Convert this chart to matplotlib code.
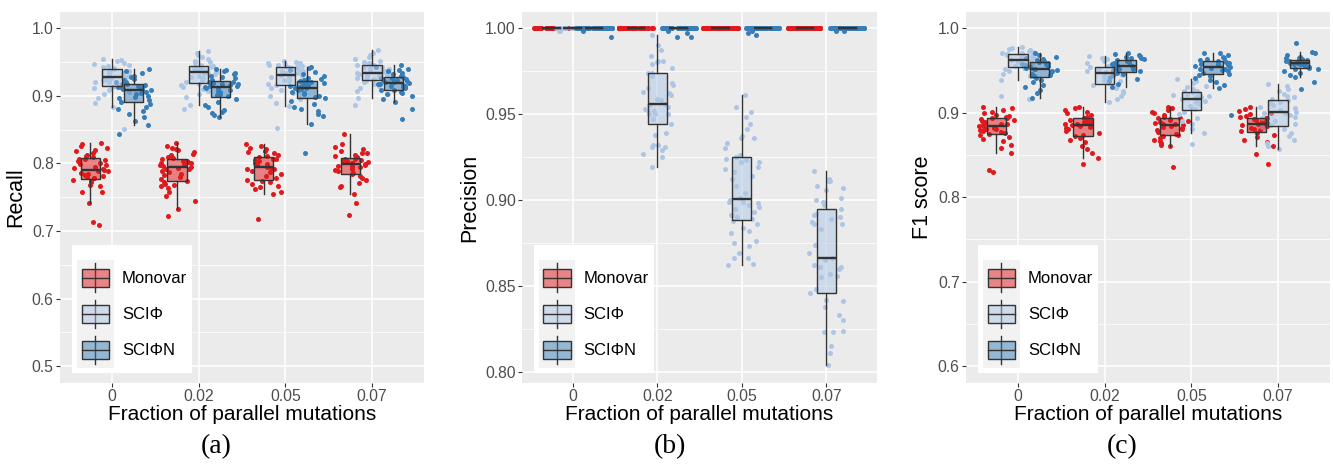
import matplotlib
matplotlib.use("Agg")
import matplotlib.pyplot as plt
import numpy as np
from matplotlib.colors import to_rgba
from matplotlib.legend_handler import HandlerBase
from matplotlib.lines import Line2D
from matplotlib.patches import Rectangle

# categories and series
fractions = ["0", "0.02", "0.05", "0.07"]
methods = ["Monovar", "SCIΦ", "SCIΦN"]
point_colors = ["#E0191C", "#ADC6E5", "#377EB8"]

# recall, one list per fraction
recall_monovar = [
    [0.709, 0.713, 0.742, 0.757, 0.758, 0.766, 0.768, 0.772, 0.774, 0.776, 0.778, 0.779, 0.780, 0.781,
     0.783, 0.785, 0.786, 0.788, 0.789, 0.790, 0.791, 0.793, 0.795, 0.797, 0.799, 0.801, 0.803, 0.805,
     0.806, 0.807, 0.809, 0.811, 0.813, 0.815, 0.818, 0.820, 0.823, 0.826, 0.829, 0.830],
    [0.722, 0.732, 0.745, 0.752, 0.758, 0.763, 0.766, 0.768, 0.770, 0.772, 0.774, 0.777, 0.780, 0.783,
     0.785, 0.787, 0.789, 0.791, 0.792, 0.793, 0.795, 0.796, 0.797, 0.798, 0.800, 0.801, 0.802, 0.803,
     0.804, 0.806, 0.808, 0.810, 0.812, 0.814, 0.817, 0.820, 0.822, 0.823, 0.826, 0.830],
    [0.718, 0.754, 0.758, 0.762, 0.765, 0.767, 0.770, 0.772, 0.774, 0.776, 0.779, 0.782, 0.785, 0.787,
     0.789, 0.791, 0.792, 0.793, 0.795, 0.797, 0.799, 0.801, 0.803, 0.805, 0.806, 0.807, 0.809, 0.811,
     0.813, 0.815, 0.817, 0.819, 0.821, 0.823, 0.826, 0.829],
    [0.723, 0.741, 0.754, 0.765, 0.766, 0.771, 0.775, 0.778, 0.781, 0.784, 0.786, 0.788, 0.790, 0.792,
     0.794, 0.795, 0.796, 0.797, 0.798, 0.799, 0.800, 0.801, 0.802, 0.803, 0.804, 0.805, 0.806, 0.807,
     0.809, 0.811, 0.813, 0.815, 0.816, 0.818, 0.821, 0.824, 0.829, 0.843],
]
recall_sciphi = [
    [0.851, 0.884, 0.890, 0.897, 0.902, 0.906, 0.909, 0.911, 0.913, 0.914, 0.916, 0.918, 0.920, 0.921,
     0.923, 0.924, 0.926, 0.927, 0.928, 0.929, 0.930, 0.931, 0.933, 0.934, 0.936, 0.937, 0.938, 0.940,
     0.941, 0.943, 0.944, 0.946, 0.947, 0.949, 0.951, 0.953, 0.955],
    [0.880, 0.886, 0.898, 0.903, 0.907, 0.910, 0.913, 0.916, 0.918, 0.920, 0.923, 0.926, 0.928, 0.930,
     0.932, 0.933, 0.934, 0.935, 0.936, 0.937, 0.938, 0.939, 0.940, 0.941, 0.942, 0.943, 0.944, 0.946,
     0.948, 0.950, 0.952, 0.954, 0.957, 0.960, 0.963, 0.967],
    [0.852, 0.885, 0.890, 0.895, 0.900, 0.904, 0.908, 0.911, 0.914, 0.916, 0.918, 0.920, 0.922, 0.924,
     0.926, 0.928, 0.929, 0.930, 0.931, 0.933, 0.934, 0.936, 0.937, 0.938, 0.940, 0.941, 0.942, 0.943,
     0.944, 0.945, 0.946, 0.947, 0.948, 0.949, 0.950, 0.951],
    [0.886, 0.896, 0.902, 0.907, 0.911, 0.914, 0.917, 0.920, 0.922, 0.923, 0.925, 0.927, 0.928, 0.929,
     0.930, 0.931, 0.932, 0.933, 0.934, 0.935, 0.937, 0.938, 0.940, 0.941, 0.942, 0.943, 0.945, 0.946,
     0.948, 0.950, 0.952, 0.954, 0.957, 0.960, 0.964, 0.968],
]
recall_sciphin = [
    [0.843, 0.857, 0.862, 0.868, 0.873, 0.877, 0.880, 0.884, 0.888, 0.891, 0.894, 0.896, 0.898, 0.900,
     0.902, 0.904, 0.906, 0.908, 0.909, 0.910, 0.911, 0.912, 0.913, 0.914, 0.915, 0.916, 0.917, 0.918,
     0.920, 0.921, 0.923, 0.925, 0.928, 0.930, 0.933, 0.936, 0.940],
    [0.868, 0.871, 0.874, 0.876, 0.879, 0.883, 0.887, 0.891, 0.895, 0.899, 0.901, 0.903, 0.905, 0.907,
     0.909, 0.911, 0.912, 0.913, 0.914, 0.915, 0.916, 0.917, 0.918, 0.919, 0.920, 0.921, 0.922, 0.924,
     0.926, 0.928, 0.930, 0.932, 0.934, 0.936, 0.938, 0.939],
    [0.815, 0.859, 0.870, 0.873, 0.877, 0.880, 0.884, 0.888, 0.892, 0.896, 0.898, 0.900, 0.902, 0.904,
     0.906, 0.908, 0.910, 0.911, 0.912, 0.913, 0.914, 0.915, 0.917, 0.918, 0.919, 0.920, 0.921, 0.922,
     0.923, 0.925, 0.927, 0.930, 0.932, 0.935, 0.938, 0.941, 0.943],
    [0.865, 0.880, 0.891, 0.895, 0.899, 0.902, 0.904, 0.906, 0.908, 0.909, 0.911, 0.913, 0.914, 0.915,
     0.916, 0.917, 0.918, 0.919, 0.920, 0.921, 0.922, 0.923, 0.924, 0.925, 0.926, 0.927, 0.928, 0.930,
     0.932, 0.934, 0.936, 0.938, 0.940, 0.942, 0.945],
]

# precision
precision_monovar = [[1.0] * 45, [1.0] * 45, [1.0] * 45, [1.0] * 45]
precision_sciphi = [
    [0.998, 0.998] + [1.0] * 43,
    [0.996, 0.990, 0.987, 0.984, 0.981, 0.981, 0.980, 0.979, 0.977, 0.974, 0.974, 0.972, 0.968, 0.967,
     0.965, 0.963, 0.962, 0.961, 0.959, 0.958, 0.956, 0.955, 0.954, 0.953, 0.952, 0.952, 0.950, 0.950,
     0.950, 0.947, 0.944, 0.939, 0.938, 0.932, 0.932, 0.931, 0.931, 0.929, 0.927, 0.925, 0.919],
    [0.961, 0.954, 0.951, 0.948, 0.944, 0.941, 0.937, 0.936, 0.936, 0.933, 0.930, 0.926, 0.925, 0.924,
     0.923, 0.922, 0.922, 0.919, 0.918, 0.916, 0.914, 0.912, 0.908, 0.904, 0.901, 0.900, 0.899, 0.899,
     0.898, 0.897, 0.896, 0.895, 0.893, 0.891, 0.891, 0.890, 0.889, 0.888, 0.886, 0.884, 0.882, 0.881,
     0.876, 0.875, 0.873, 0.869, 0.866, 0.866, 0.863, 0.862],
    [0.917, 0.912, 0.911, 0.911, 0.908, 0.907, 0.906, 0.901, 0.900, 0.899, 0.897, 0.895, 0.892, 0.891,
     0.890, 0.889, 0.887, 0.886, 0.886, 0.883, 0.874, 0.869, 0.866, 0.865, 0.862, 0.861, 0.861, 0.860,
     0.857, 0.856, 0.855, 0.848, 0.848, 0.846, 0.842, 0.841, 0.838, 0.833, 0.830, 0.824, 0.823, 0.823,
     0.815, 0.811, 0.804],
]
precision_sciphin = [
    [0.995, 0.998] + [1.0] * 43,
    [0.995, 0.995, 0.997, 0.998] + [1.0] * 41,
    [0.996, 0.997, 0.998] + [1.0] * 42,
    [0.998, 0.998] + [1.0] * 43,
]

# F1 score
f1_monovar = [
    [0.830, 0.832, 0.852, 0.858, 0.862, 0.866, 0.869, 0.871, 0.873, 0.875, 0.876, 0.877, 0.878, 0.879,
     0.880, 0.881, 0.882, 0.883, 0.884, 0.885, 0.886, 0.887, 0.888, 0.889, 0.890, 0.891, 0.892, 0.893,
     0.894, 0.895, 0.896, 0.897, 0.899, 0.901, 0.903, 0.905, 0.907],
    [0.839, 0.846, 0.852, 0.857, 0.861, 0.865, 0.868, 0.870, 0.872, 0.874, 0.876, 0.878, 0.880, 0.882,
     0.883, 0.884, 0.885, 0.886, 0.887, 0.888, 0.889, 0.890, 0.891, 0.892, 0.893, 0.894, 0.895, 0.897,
     0.899, 0.901, 0.903, 0.905, 0.907],
    [0.836, 0.860, 0.862, 0.864, 0.866, 0.868, 0.870, 0.872, 0.873, 0.875, 0.877, 0.879, 0.880, 0.882,
     0.883, 0.884, 0.885, 0.886, 0.887, 0.888, 0.889, 0.890, 0.891, 0.892, 0.893, 0.894, 0.895, 0.897,
     0.899, 0.901, 0.903, 0.905, 0.907],
    [0.839, 0.851, 0.860, 0.865, 0.868, 0.871, 0.874, 0.876, 0.878, 0.879, 0.880, 0.882, 0.883, 0.884,
     0.885, 0.886, 0.887, 0.888, 0.889, 0.890, 0.891, 0.892, 0.893, 0.894, 0.895, 0.896, 0.898, 0.900,
     0.902, 0.904, 0.906],
]
f1_sciphi = [
    [0.916, 0.920, 0.938, 0.943, 0.946, 0.949, 0.951, 0.953, 0.955, 0.956, 0.957, 0.958, 0.959, 0.960,
     0.961, 0.962, 0.963, 0.964, 0.965, 0.966, 0.967, 0.968, 0.969, 0.970, 0.971, 0.972, 0.973, 0.974,
     0.975, 0.976, 0.977],
    [0.912, 0.916, 0.920, 0.923, 0.926, 0.929, 0.931, 0.933, 0.935, 0.937, 0.939, 0.941, 0.943, 0.945,
     0.946, 0.947, 0.948, 0.949, 0.950, 0.951, 0.952, 0.953, 0.954, 0.955, 0.957, 0.959, 0.961, 0.963,
     0.965, 0.967],
    [0.863, 0.876, 0.881, 0.886, 0.890, 0.894, 0.898, 0.901, 0.904, 0.906, 0.908, 0.910, 0.912, 0.914,
     0.915, 0.916, 0.917, 0.918, 0.919, 0.920, 0.921, 0.922, 0.923, 0.924, 0.925, 0.926, 0.928, 0.930,
     0.932, 0.935, 0.937, 0.940],
    [0.857, 0.860, 0.864, 0.868, 0.872, 0.876, 0.880, 0.883, 0.885, 0.887, 0.890, 0.893, 0.895, 0.897,
     0.899, 0.900, 0.901, 0.903, 0.905, 0.907, 0.909, 0.911, 0.913, 0.915, 0.916, 0.918, 0.920, 0.922,
     0.925, 0.928, 0.931, 0.934],
]
f1_sciphin = [
    [0.917, 0.923, 0.927, 0.930, 0.933, 0.936, 0.939, 0.941, 0.943, 0.944, 0.946, 0.948, 0.949, 0.950,
     0.951, 0.952, 0.953, 0.954, 0.955, 0.956, 0.957, 0.958, 0.959, 0.960, 0.961, 0.962, 0.963, 0.964,
     0.966, 0.968, 0.970],
    [0.930, 0.934, 0.937, 0.940, 0.942, 0.944, 0.946, 0.947, 0.949, 0.950, 0.951, 0.952, 0.953, 0.954,
     0.955, 0.956, 0.957, 0.958, 0.959, 0.960, 0.961, 0.962, 0.963, 0.964, 0.965, 0.966, 0.967, 0.968,
     0.969, 0.970],
    [0.897, 0.929, 0.933, 0.936, 0.939, 0.941, 0.943, 0.945, 0.946, 0.947, 0.949, 0.950, 0.951, 0.952,
     0.953, 0.954, 0.955, 0.956, 0.957, 0.958, 0.959, 0.960, 0.961, 0.962, 0.963, 0.964, 0.966, 0.968,
     0.970, 0.971],
    [0.928, 0.936, 0.942, 0.945, 0.947, 0.949, 0.951, 0.952, 0.953, 0.954, 0.955, 0.956, 0.957, 0.958,
     0.958, 0.959, 0.959, 0.960, 0.960, 0.961, 0.961, 0.962, 0.963, 0.964, 0.965, 0.966, 0.968, 0.970,
     0.972, 0.982],
]

# style
EDGE = "#333333"
plt.rcParams["font.family"] = ["Liberation Sans", "DejaVu Sans"]


class BoxKey(HandlerBase):
    # ggplot-like boxplot legend key on a grey tile
    def create_artists(self, legend, orig_handle, xdescent, ydescent, width, height, fontsize, trans):
        x0, y0 = -xdescent, -ydescent
        cx = x0 + width / 2
        tile = Rectangle((x0, y0), width, height, facecolor="#F2F2F2", edgecolor="none", transform=trans)
        whisk = Line2D([cx, cx], [y0 + 0.1 * height, y0 + 0.9 * height], color=EDGE, lw=1.0, transform=trans)
        box = Rectangle((x0 + 0.13 * width, y0 + 0.24 * height), 0.74 * width, 0.52 * height,
                        facecolor=orig_handle.get_facecolor(), edgecolor=EDGE, lw=1.0, transform=trans)
        med = Line2D([x0 + 0.13 * width, x0 + 0.87 * width], [y0 + 0.5 * height] * 2,
                     color=EDGE, lw=1.0, transform=trans)
        return [tile, whisk, box, med]


def jitter(n, seed):
    # fixed scatter of the points across the box width (position only)
    u = np.sin((np.arange(n) + 1) * 12.9898 + seed * 78.233) * 43758.5453
    return (u - np.floor(u) - 0.5) * 0.42


def draw_panel(ax, series, ylim, major, minor, fmt, ylabel, ylabel_x, seed):
    pos = np.arange(1, 5)
    offsets = [-0.25, 0.0, 0.25]
    for m, (vals, col) in enumerate(zip(series, point_colors)):
        for g, v in enumerate(vals):
            xs = pos[g] + offsets[m] + jitter(len(v), seed + 3 * m + 11 * g)
            ax.scatter(xs, v, s=13, color=col, linewidths=0, zorder=2)
    for m, (vals, col) in enumerate(zip(series, point_colors)):
        ax.boxplot(vals, positions=pos + offsets[m], widths=0.22, patch_artist=True,
                   showfliers=False, showcaps=False, manage_ticks=False, zorder=3,
                   boxprops=dict(facecolor=to_rgba(col, 0.5), edgecolor=EDGE, linewidth=1.0),
                   medianprops=dict(color=EDGE, linewidth=1.7),
                   whiskerprops=dict(color=EDGE, linewidth=1.0))

    ax.set_xlim(0.4, 4.6)
    ax.set_ylim(*ylim)
    ax.set_xticks(pos, fractions)
    ax.set_yticks(major, [fmt.format(t) for t in major])
    ax.set_yticks(minor, minor=True)
    ax.set_facecolor("#EBEBEB")
    for s in ax.spines.values():
        s.set_visible(False)
    ax.set_axisbelow(True)
    ax.grid(which="major", color="white", lw=1.1)
    ax.grid(which="minor", axis="y", color="white", lw=0.55)
    ax.tick_params(which="major", length=3, width=0.8, color=EDGE, labelcolor="#4D4D4D",
                   labelsize=11.3, pad=1.5)
    ax.tick_params(which="minor", length=0)

    ax.set_xlabel("Fraction of parallel mutations", fontsize=15)
    ax.xaxis.set_label_coords(0.5, -0.06)
    ax.set_ylabel(ylabel, fontsize=15.5)
    ax.yaxis.set_label_coords(ylabel_x, 0.5)

    handles = [Rectangle((0, 0), 1, 1, facecolor=to_rgba(c, 0.5)) for c in point_colors]
    leg = ax.legend(handles, methods, loc="lower left", bbox_to_anchor=(0.033, 0.027),
                    borderaxespad=0, handler_map={Rectangle: BoxKey()}, fontsize=12,
                    title=" ", title_fontsize=8,
                    frameon=True, fancybox=False, framealpha=1, facecolor="white", edgecolor="none",
                    borderpad=0.3, handlelength=2.2, handleheight=2.95, handletextpad=0.5,
                    labelspacing=0)
    leg.set_zorder(5)


fig = plt.figure(figsize=(13.33, 4.72), dpi=100)
H = 472.0
W = 1333.0
bottom = (H - 383) / H
height = 371 / H
ax_a = fig.add_axes([60 / W, bottom, 364 / W, height])
ax_b = fig.add_axes([522 / W, bottom, 355 / W, height])
ax_c = fig.add_axes([966 / W, bottom, 364 / W, height])

draw_panel(ax_a, [recall_monovar, recall_sciphi, recall_sciphin], (0.475, 1.024),
           np.arange(0.5, 1.01, 0.1), np.arange(0.55, 1.0, 0.1), "{:.1f}", "Recall", -0.093, 1)
draw_panel(ax_b, [precision_monovar, precision_sciphi, precision_sciphin], (0.7936, 1.0093),
           np.arange(0.8, 1.001, 0.05), np.arange(0.825, 1.0, 0.05), "{:.2f}", "Precision", -0.118, 2)
draw_panel(ax_c, [f1_monovar, f1_sciphi, f1_sciphin], (0.58, 1.019),
           np.arange(0.6, 1.01, 0.1), np.arange(0.65, 1.0, 0.1), "{:.1f}", "F1 score", -0.091, 3)

for lab, xc in [("(a)", 216), ("(b)", 670), ("(c)", 1122)]:
    fig.text(xc / W, 1 - 447 / H, lab, ha="center", va="center", fontsize=20,
             family=["Liberation Serif", "DejaVu Serif"])

fig.savefig("out.png", dpi=100)
